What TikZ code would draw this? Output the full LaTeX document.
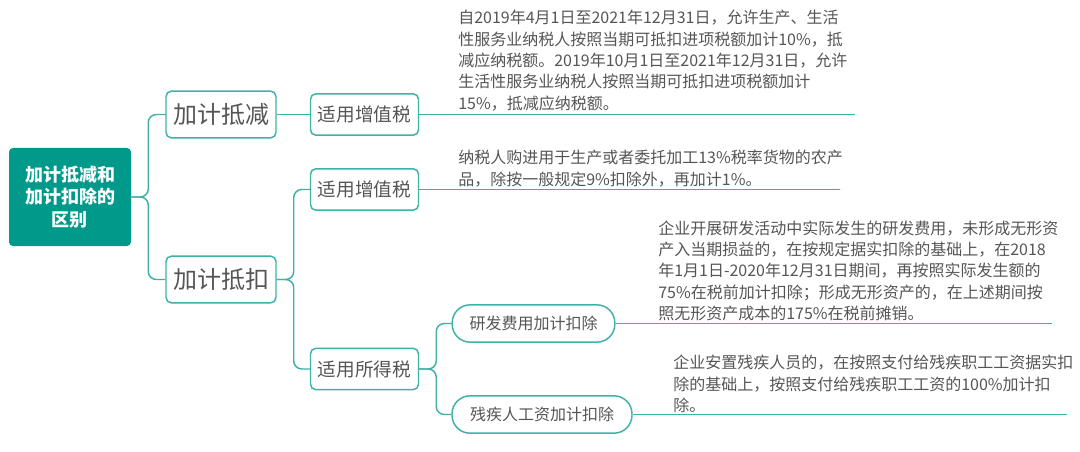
\documentclass[tikz,border=0pt]{standalone}
\usepackage{fontspec}
\setmainfont{Noto Sans CJK SC}
\usetikzlibrary{positioning}
\definecolor{rootteal}{HTML}{00998A}
\definecolor{lineteal}{HTML}{3DB2A8}
\definecolor{txtgray}{HTML}{555555}
\tikzset{
  rootbox/.style={fill=rootteal,text=white,rounded corners=3pt,minimum width=91.5pt,minimum height=73.5pt,align=center,font=\fontsize{13.5}{17}\selectfont\bfseries},
  topicbox/.style={draw=lineteal,line width=1.1pt,rounded corners=4pt,text=txtgray,minimum width=82.5pt,minimum height=35pt,font=\fontsize{18}{20}\selectfont},
  taxbox/.style={draw=lineteal,line width=1.1pt,rounded corners=4pt,text=txtgray,minimum width=81pt,minimum height=31pt,font=\fontsize{14}{16}\selectfont},
  pillbox/.style={draw=lineteal,line width=1.1pt,rounded corners=13.5pt,text=txtgray,minimum height=28pt,inner xsep=12pt,font=\fontsize{12}{14}\selectfont},
  note/.style={anchor=south west,inner sep=0pt,align=left,text=txtgray,font=\fontsize{12}{16}\selectfont},
  conn/.style={draw=lineteal,line width=1.1pt,rounded corners=6pt}
}
\begin{document}
\begin{tikzpicture}[x=0.75pt,y=-0.75pt]
\useasboundingbox (0,0) rectangle (1080,452);
% main nodes
\node[rootbox] (root) at (70,197) {加计抵减和\\加计扣除的\\区别};
\node[topicbox] (jjdj) at (221,114.5) {加计抵减};
\node[topicbox] (jjdk) at (221,279.5) {加计抵扣};
\node[taxbox] (zzs1) at (364.5,114.5) {适用增值税};
\node[taxbox] (zzs2) at (364.5,189.5) {适用增值税};
\node[taxbox] (sds) at (364.5,369) {适用所得税};
\node[pillbox,minimum width=122pt] (yffy) at (533.5,323.5) {研发费用加计扣除};
\node[pillbox,minimum width=135pt] (cjrg) at (542,414.5) {残疾人工资加计扣除};
% end points of the underlines
\coordinate (e1) at (855,114.5);
\coordinate (e2) at (840,189.5);
\coordinate (e3) at (1052,323.5);
\coordinate (e4) at (1067,414.5);
% connectors
\draw[conn] (root.east) -- ++(17,0) |- (jjdj.west);
\draw[conn] (root.east) -- ++(17,0) |- (jjdk.west);
\draw[conn] (jjdj.east) -- (zzs1.west);
\draw[conn] (jjdk.east) -- ++(17,0) |- (zzs2.west);
\draw[conn] (jjdk.east) -- ++(17,0) |- (sds.west);
\draw[conn] (sds.east) -- ++(17,0) |- (yffy.west);
\draw[conn] (sds.east) -- ++(17,0) |- (cjrg.west);
\draw[conn] (zzs1.east) -- (e1);
\draw[conn] (zzs2.east) -- (e2);
\draw[conn] (yffy.east) -- (e3);
\draw[conn] (cjrg.east) -- (e4);
% notes
\node[note] (n1) at (458,111) {自2019年4月1日至2021年12月31日，允许生产、生活\\性服务业纳税人按照当期可抵扣进项税额加计10\%，抵\\减应纳税额。2019年10月1日至2021年12月31日，允许\\生活性服务业纳税人按照当期可抵扣进项税额加计\\15\%，抵减应纳税额。};
\node[note] (n2) at (458,187) {纳税人购进用于生产或者委托加工13\%税率货物的农产\\品，除按一般规定9\%扣除外，再加计1\%。};
\node[note] (n3) at (658,321) {企业开展研发活动中实际发生的研发费用，未形成无形资\\产入当期损益的，在按规定据实扣除的基础上，在2018\\年1月1日-2020年12月31日期间，再按照实际发生额的\\75\%在税前加计扣除；形成无形资产的，在上述期间按\\照无形资产成本的175\%在税前摊销。};
\node[note] (n4) at (673,413) {企业安置残疾人员的，在按照支付给残疾职工工资据实扣\\除的基础上，按照支付给残疾职工工资的100\%加计扣\\除。};
\end{tikzpicture}
\end{document}
